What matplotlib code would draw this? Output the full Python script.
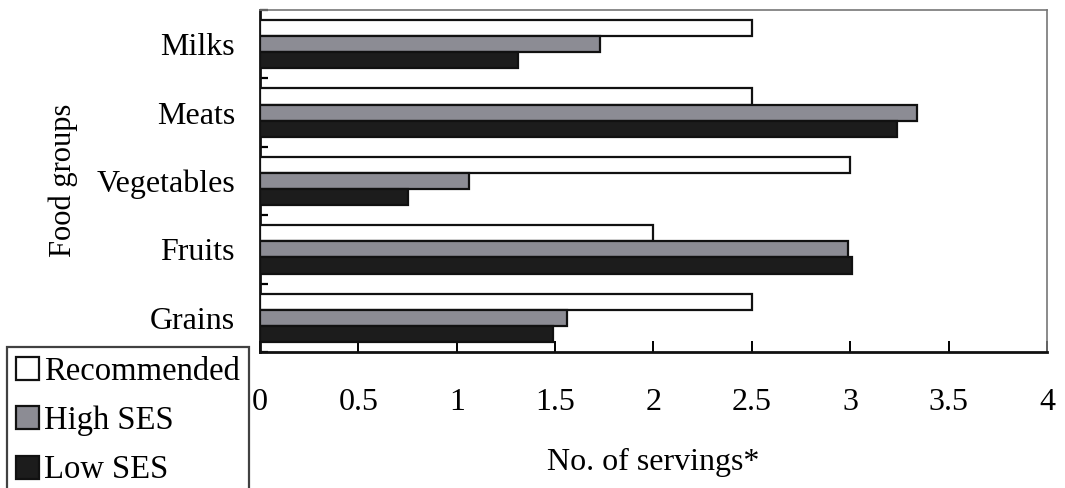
import matplotlib.pyplot as plt
import matplotlib.patches as mpatches
import numpy as np

plt.rcParams['font.family'] = ['Liberation Serif', 'DejaVu Serif']

groups = ['Milks', 'Meats', 'Vegetables', 'Fruits', 'Grains']
recommended = [2.5, 2.5, 3.0, 2.0, 2.5]
high_ses = [1.73, 3.34, 1.06, 2.99, 1.56]
low_ses = [1.31, 3.24, 0.75, 3.01, 1.49]
series_names = ['Recommended', 'High SES', 'Low SES']
x_ticks = [0, 0.5, 1, 1.5, 2, 2.5, 3, 3.5, 4]
x_tick_labels = ['0', '0.5', '1', '1.5', '2', '2.5', '3', '3.5', '4']

colors = ['white', '#8c8c94', '#1c1c1c']

fig = plt.figure(figsize=(10.65, 4.88), dpi=100)
ax = fig.add_axes([0.2441, 0.2787, 0.7390, 0.7008])

# categories from top to bottom
pos = np.arange(len(groups))
bh = 0.235
for i, vals in enumerate([recommended, high_ses, low_ses]):
    ax.barh(pos - bh + i * bh, vals, height=bh, color=colors[i],
            edgecolor='#111111', linewidth=1.6, zorder=3)

ax.set_ylim(len(groups) - 0.5, -0.5)
ax.set_xlim(0, 4)

ax.set_yticks(pos)
ax.set_yticklabels(groups, fontsize=23)
ax.set_yticks(np.arange(-0.5, len(groups), 1.0), minor=True)
ax.tick_params(axis='y', which='major', length=0, pad=18)
ax.tick_params(axis='y', which='minor', direction='in', length=6, width=1.6)

ax.set_xticks(x_ticks)
ax.set_xticklabels(x_tick_labels, fontsize=23)
ax.tick_params(axis='x', direction='in', length=8, width=1.4, pad=26)

for side in ['left', 'bottom']:
    ax.spines[side].set_linewidth(2.0)
    ax.spines[side].set_color('#111111')
for side in ['top', 'right']:
    ax.spines[side].set_linewidth(1.2)
    ax.spines[side].set_color('#777777')

ax.set_xlabel('No. of servings*', fontsize=23, labelpad=22)
fig.text(63 / 1065, 1 - 180 / 488, 'Food groups', rotation=90,
         fontsize=22, ha='center', va='center')

handles = [mpatches.Patch(facecolor=c, edgecolor='#111111', linewidth=1.6, label=n)
           for c, n in zip(colors, series_names)]
leg = fig.legend(handles=handles, loc='upper left',
                 bbox_to_anchor=(7 / 1065, 1 - 347 / 488),
                 fontsize=23.5, frameon=True, fancybox=False,
                 handlelength=0.7, handleheight=0.7, handletextpad=0.15,
                 labelspacing=0.58, borderpad=0.28, borderaxespad=0)
leg.get_frame().set_edgecolor('#111111')
leg.get_frame().set_linewidth(1.6)

fig.savefig('out.png', dpi=100)
